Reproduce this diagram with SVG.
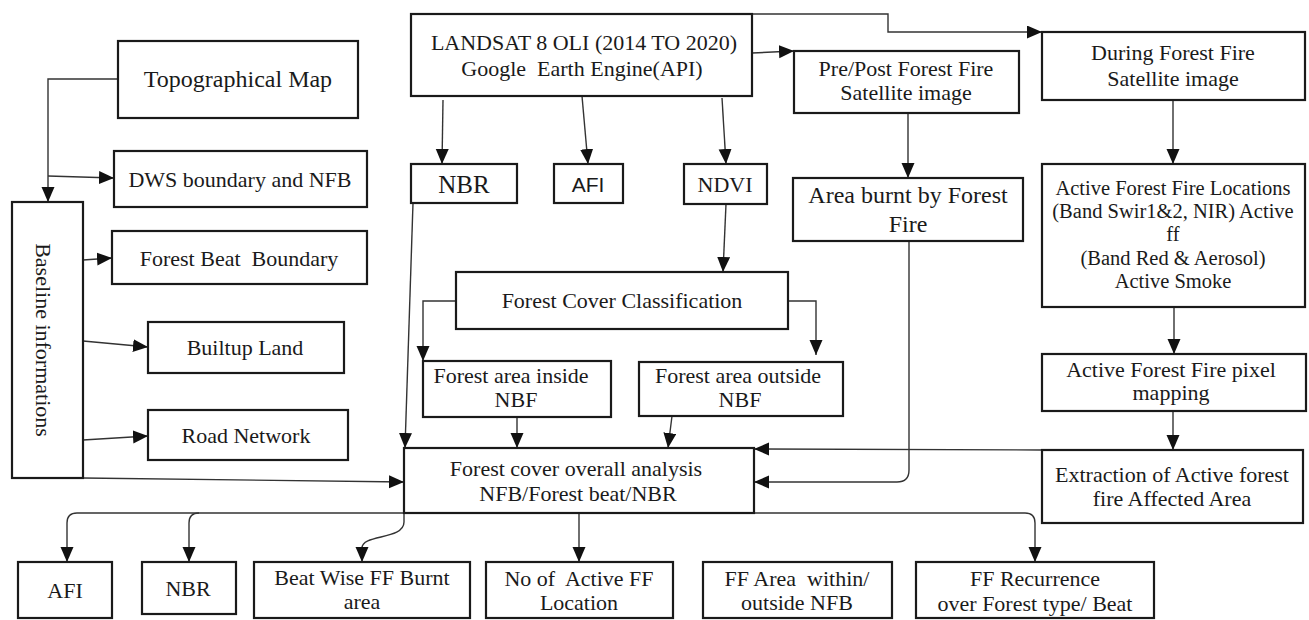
<svg xmlns="http://www.w3.org/2000/svg" width="1309" height="620" viewBox="0 0 1309 620">
<defs>
<marker id="ah" markerUnits="userSpaceOnUse" markerWidth="16" markerHeight="14" refX="15" refY="6.5" orient="auto">
<path d="M0,0 L15,6.5 L0,13 z" fill="#111"/>
</marker>
<style>
.box{fill:#fff;stroke:#1a1a1a;stroke-width:2.2}
.t{font-family:"Liberation Serif","Times New Roman",serif;font-size:22px;fill:#1a1a1a;text-anchor:middle;white-space:pre}
.s{font-family:"Liberation Sans",Arial,sans-serif;font-size:22px;fill:#1a1a1a;text-anchor:middle}
.c{fill:none;stroke:#333;stroke-width:1.4;marker-end:url(#ah)}
</style>
</defs>
<rect width="1309" height="620" fill="#fff"/>
<g id="connectors">
<path class="c" d="M118,79 H48 V202"/>
<path class="c" d="M48,176 L114,178"/>
<path class="c" d="M83,260 L112,258"/>
<path class="c" d="M83,341 L148,347"/>
<path class="c" d="M83,440 L148,436"/>
<path class="c" d="M83,478 L404,482"/>
<path class="c" d="M443,100 L442,164"/>
<path class="c" d="M582,96 L588,164"/>
<path class="c" d="M722,98 L726,164"/>
<path class="c" d="M752,53 L794,51"/>
<path class="c" d="M752,14 H888 V32 H1042"/>
<path class="c" d="M726,204 L723,272"/>
<path class="c" d="M456,301 H423 V361"/>
<path class="c" d="M788,301 H816 V355"/>
<path class="c" d="M517,417 V448"/>
<path class="c" d="M672,416 L668,448"/>
<path class="c" d="M413,203 L405,448"/>
<path class="c" d="M908,113 V178"/>
<path class="c" d="M909,241 V470 Q909,482 897,482 H754"/>
<path class="c" d="M1042,450 L754,449"/>
<path class="c" d="M1173,100 V164"/>
<path class="c" d="M1174,307 V354"/>
<path class="c" d="M1173,411 V450"/>
<path class="c" d="M404,513 H77 Q67,513 67,523 V562"/>
<path class="c" d="M199,513 Q189,513 189,523 V562"/>
<path class="c" d="M404,513 V522 C404,540 362,534 362,548 V562"/>
<path class="c" d="M579,513 V562"/>
<path class="c" d="M754,513 H1025 Q1035,513 1035,523 V562"/>
</g>
<g id="topo"><rect class="box" x="118" y="41" width="240" height="77"/><text class="t" x="238" y="87" style="font-size:24px">Topographical Map</text></g>
<g id="dws"><rect class="box" x="114" y="151" width="253" height="56"/><text class="t" x="240" y="187">DWS boundary and NFB</text></g>
<g id="baseline"><rect class="box" x="12" y="202" width="71" height="276"/><text class="t" transform="translate(36,340) rotate(90)">Baseline informations</text></g>
<g id="fbb"><rect class="box" x="112" y="231" width="255" height="53"/><text class="t" x="239" y="266">Forest Beat  Boundary</text></g>
<g id="builtup"><rect class="box" x="148" y="322" width="196" height="51"/><text class="t" x="245" y="355">Builtup Land</text></g>
<g id="road"><rect class="box" x="148" y="410" width="200" height="50"/><text class="t" x="246" y="443">Road Network</text></g>
<g id="landsat"><rect class="box" x="411" y="14" width="341" height="82"/><text class="t" x="584" y="50">LANDSAT 8 OLI (2014 TO 2020)</text><text class="t" x="582" y="76">Google  Earth Engine(API)</text></g>
<g id="nbr1"><rect class="box" x="411" y="164" width="106" height="39"/><text class="t" x="464" y="193" style="font-size:25px">NBR</text></g>
<g id="afi1"><rect class="box" x="554" y="164" width="69" height="39"/><text class="s" x="588" y="192" style="font-size:21px">AFI</text></g>
<g id="ndvi"><rect class="box" x="684" y="164" width="83" height="40"/><text class="t" x="725" y="192">NDVI</text></g>
<g id="prepost"><rect class="box" x="794" y="51" width="225" height="62"/><text class="t" x="906" y="76">Pre/Post Forest Fire</text><text class="t" x="906" y="100">Satellite image</text></g>
<g id="during"><rect class="box" x="1042" y="32" width="263" height="68"/><text class="t" x="1173" y="60">During Forest Fire</text><text class="t" x="1173" y="86">Satellite image</text></g>
<g id="burnt"><rect class="box" x="793" y="178" width="230" height="63"/><text class="t" x="908" y="203" style="font-size:24px">Area burnt by Forest</text><text class="t" x="908" y="232" style="font-size:24px">Fire</text></g>
<g id="activeloc"><rect class="box" x="1042" y="164" width="263" height="143"/>
<text class="t" x="1173" y="195" style="font-size:20.5px">Active Forest Fire Locations</text>
<text class="t" x="1173" y="218" style="font-size:20.5px">(Band Swir1&amp;2, NIR) Active</text>
<text class="t" x="1173" y="241" style="font-size:20.5px">ff</text>
<text class="t" x="1173" y="265" style="font-size:20.5px">(Band Red &amp; Aerosol)</text>
<text class="t" x="1173" y="288" style="font-size:20.5px">Active Smoke</text></g>
<g id="pixel"><rect class="box" x="1042" y="354" width="264" height="57"/><text class="t" x="1171" y="377">Active Forest Fire pixel</text><text class="t" x="1171" y="400">mapping</text></g>
<g id="extraction"><rect class="box" x="1042" y="450" width="261" height="73"/><text class="t" x="1172" y="482">Extraction of Active forest</text><text class="t" x="1172" y="506">fire Affected Area</text></g>
<g id="fcc"><rect class="box" x="456" y="272" width="332" height="57"/><text class="t" x="622" y="308">Forest Cover Classification</text></g>
<g id="inside"><rect class="box" x="423" y="361" width="188" height="56"/><text class="t" x="511" y="383">Forest area inside</text><text class="t" x="516" y="407">NBF</text></g>
<g id="outside"><rect class="box" x="639" y="362" width="204" height="54"/><text class="t" x="738" y="383">Forest area outside</text><text class="t" x="740" y="407">NBF</text></g>
<g id="analysis"><rect class="box" x="404" y="448" width="350" height="65"/><text class="t" x="576" y="476">Forest cover overall analysis</text><text class="t" x="578" y="501">NFB/Forest beat/NBR</text></g>
<g id="afi2"><rect class="box" x="18" y="562" width="94" height="56"/><text class="t" x="65" y="598">AFI</text></g>
<g id="nbr2"><rect class="box" x="142" y="562" width="94" height="52"/><text class="t" x="188" y="596">NBR</text></g>
<g id="beatwise"><rect class="box" x="254" y="562" width="216" height="56"/><text class="t" x="362" y="585">Beat Wise FF Burnt</text><text class="t" x="362" y="609">area</text></g>
<g id="noactive"><rect class="box" x="486" y="562" width="187" height="56"/><text class="t" x="579" y="586">No of  Active FF</text><text class="t" x="579" y="610">Location</text></g>
<g id="ffarea"><rect class="box" x="703" y="562" width="189" height="56"/><text class="t" x="797" y="586">FF Area  within/</text><text class="t" x="797" y="610">outside NFB</text></g>
<g id="recurrence"><rect class="box" x="916" y="562" width="238" height="56"/><text class="t" x="1035" y="586">FF Recurrence</text><text class="t" x="1035" y="611">over Forest type/ Beat</text></g>
</svg>
